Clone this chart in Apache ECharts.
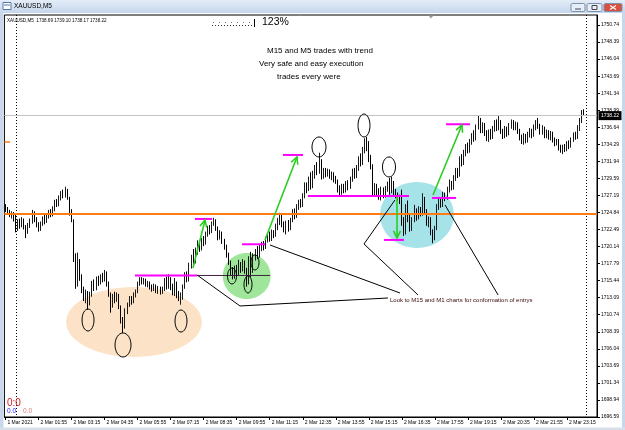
<!DOCTYPE html>
<html><head><meta charset="utf-8">
<script src="https://cdn.jsdelivr.net/npm/echarts@6/dist/echarts.min.js"></script>
<style>html,body{margin:0;padding:0;background:#fff;overflow:hidden}#c{width:625px;height:430px}</style>
</head><body><div id="c"></div>
<script>
(function () {
// ---------------- DATA ----------------
const priceTicks = ['1696.59','1698.94','1701.34','1703.69','1706.04','1708.39','1710.74','1713.09','1715.44','1717.79','1720.14','1722.49','1724.84','1727.19','1729.59','1731.94','1734.29','1736.64','1738.99','1741.34','1743.69','1746.04','1748.39','1750.74'];
const timeTicks = ['1 Mar 2021','2 Mar 01:55','2 Mar 03:15','2 Mar 04:35','2 Mar 05:55','2 Mar 07:15','2 Mar 08:35','2 Mar 09:55','2 Mar 11:15','2 Mar 12:35','2 Mar 13:55','2 Mar 15:15','2 Mar 16:35','2 Mar 17:55','2 Mar 19:15','2 Mar 20:35','2 Mar 21:55','2 Mar 23:15'];
const barsPerTick = 16;
const slotCount = 287;          // bar slots on the time axis (incl. right shift)
const daySeparators = [5, 281]; // first bar of 2 Mar, start of 3 Mar
// [open, close, low, high]
const ohlc = [
[1725.6,1725.3,1724.9,1726.0],[1725.3,1725.0,1724.7,1725.6],[1725.0,1724.4,1724.2,1725.2],[1724.4,1724.7,1724.0,1725.0],[1724.7,1723.9,1723.6,1724.9],
[1723.9,1722.6,1722.1,1724.5],[1722.6,1723.5,1722.3,1723.9],[1723.5,1723.0,1722.6,1724.0],[1723.0,1723.8,1722.8,1724.2],[1723.8,1722.8,1722.5,1724.0],
[1722.8,1722.1,1721.3,1723.1],[1722.1,1723.0,1721.9,1723.4],[1723.0,1723.6,1722.7,1724.0],[1723.6,1724.8,1723.3,1725.2],[1724.8,1723.9,1723.5,1725.0],
[1723.9,1723.2,1722.8,1724.2],[1723.2,1722.6,1722.2,1723.5],[1722.6,1723.3,1722.3,1723.6],[1723.3,1724.0,1723.0,1724.3],[1724.0,1723.6,1723.2,1724.6],
[1723.6,1724.3,1723.4,1724.7],[1724.3,1724.9,1724.0,1725.2],[1724.9,1724.5,1724.2,1725.3],[1724.5,1725.3,1724.3,1725.7],[1725.3,1726.2,1725.0,1726.6],
[1726.2,1725.9,1725.6,1726.7],[1725.9,1726.8,1725.7,1727.2],[1726.8,1727.5,1726.5,1727.8],[1727.5,1727.1,1726.8,1728.0],[1727.1,1727.9,1726.9,1728.4],
[1727.9,1726.9,1726.6,1728.1],[1726.9,1725.0,1724.4,1727.0],[1725.0,1723.7,1723.5,1725.3],[1723.7,1718.5,1718.0,1723.9],[1718.5,1714.8,1714.3,1719.2],
[1714.8,1717.8,1714.6,1719.3],[1717.8,1716.0,1715.4,1718.4],[1716.0,1714.2,1713.7,1716.3],[1714.2,1712.9,1712.6,1714.6],[1712.9,1713.8,1712.3,1714.2],
[1713.8,1712.3,1711.4,1714.0],[1712.3,1713.5,1712.0,1713.9],[1713.5,1715.0,1713.2,1715.4],[1715.0,1714.4,1714.0,1715.6],[1714.4,1715.6,1714.1,1716.0],
[1715.6,1715.1,1714.7,1716.1],[1715.1,1716.0,1714.9,1716.3],[1716.0,1715.6,1715.2,1716.5],[1715.6,1716.5,1715.3,1716.9],[1716.5,1715.0,1714.6,1716.7],
[1715.0,1713.6,1713.2,1715.3],[1713.6,1712.0,1711.0,1713.8],[1712.0,1713.2,1711.7,1713.6],[1713.2,1712.8,1712.3,1713.9],[1712.8,1713.4,1712.5,1713.8],
[1713.4,1711.8,1711.5,1713.6],[1711.8,1710.0,1709.5,1712.0],[1710.0,1709.0,1708.2,1710.4],[1709.0,1711.2,1708.8,1711.6],[1711.2,1712.0,1710.8,1712.4],
[1712.0,1712.9,1711.8,1713.3],[1712.9,1712.5,1712.1,1713.3],[1712.5,1713.4,1712.3,1713.8],[1713.4,1713.9,1713.1,1714.2],[1713.9,1715.0,1713.7,1715.3],
[1715.0,1715.6,1714.7,1715.9],[1715.6,1715.2,1714.9,1715.9],[1715.2,1715.5,1714.9,1715.8],[1715.5,1714.9,1714.6,1715.7],[1714.9,1715.1,1714.5,1715.4],
[1715.1,1714.6,1714.2,1715.3],[1714.6,1714.3,1713.9,1714.9],[1714.3,1714.7,1714.0,1715.0],[1714.7,1714.0,1713.7,1714.9],[1714.0,1714.4,1713.6,1714.7],
[1714.4,1713.9,1713.5,1714.6],[1713.9,1714.3,1713.6,1714.6],[1714.3,1715.3,1714.0,1715.8],[1715.3,1714.6,1714.2,1716.0],[1714.6,1715.6,1714.3,1716.3],
[1715.6,1714.7,1714.1,1715.9],[1714.7,1713.9,1713.4,1715.0],[1713.9,1715.1,1713.3,1715.8],[1715.1,1713.6,1713.0,1715.3],[1713.6,1713.0,1712.6,1714.0],
[1713.0,1713.4,1712.1,1713.8],[1713.4,1714.6,1712.8,1714.9],[1714.6,1716.2,1714.3,1716.6],[1716.2,1715.6,1715.2,1716.7],[1715.6,1717.5,1715.3,1717.9],
[1717.5,1718.6,1717.1,1719.0],[1718.6,1718.0,1717.4,1719.8],[1718.0,1719.5,1717.8,1720.0],[1719.5,1720.5,1719.0,1721.0],[1720.5,1719.8,1719.4,1720.9],
[1719.8,1721.0,1719.6,1721.3],[1721.0,1720.6,1720.2,1721.6],[1720.6,1721.9,1720.4,1722.2],[1721.9,1722.6,1721.5,1723.0],[1722.6,1722.2,1721.8,1723.1],
[1722.2,1723.2,1722.0,1723.6],[1723.2,1723.6,1723.0,1724.1],[1723.6,1722.6,1722.3,1723.9],[1722.6,1721.4,1721.0,1722.9],[1721.4,1722.0,1721.1,1722.4],
[1722.0,1720.9,1720.5,1722.2],[1720.9,1720.1,1719.7,1721.2],[1720.1,1719.0,1718.6,1720.4],[1719.0,1718.0,1717.6,1719.3],[1718.0,1716.6,1716.2,1718.2],
[1716.6,1716.0,1715.6,1717.3],[1716.0,1717.1,1715.7,1717.5],[1717.1,1716.4,1716.0,1717.6],[1716.4,1717.6,1716.2,1718.3],[1717.6,1716.9,1716.5,1718.0],
[1716.9,1717.9,1716.7,1718.4],[1717.9,1716.8,1716.4,1718.2],[1716.8,1715.5,1714.6,1717.2],[1715.5,1718.2,1714.9,1718.8],[1718.2,1716.8,1715.9,1719.4],
[1716.8,1718.6,1716.5,1719.2],[1718.6,1719.3,1718.2,1719.8],[1719.3,1718.8,1718.4,1720.2],[1718.8,1719.9,1718.6,1720.4],[1719.9,1720.4,1719.5,1720.8],
[1720.4,1720.0,1719.6,1720.9],[1720.0,1721.0,1719.8,1721.5],[1721.0,1721.6,1720.7,1722.0],[1721.6,1721.2,1720.8,1722.2],[1721.2,1722.1,1720.9,1722.5],
[1722.1,1721.7,1721.3,1722.4],[1721.7,1722.8,1721.5,1723.3],[1722.8,1723.5,1722.4,1724.1],[1723.5,1724.2,1723.1,1724.8],[1724.2,1723.2,1722.8,1724.5],
[1723.2,1722.5,1722.1,1723.6],[1722.5,1723.4,1721.8,1723.7],[1723.4,1722.7,1722.2,1723.8],[1722.7,1723.8,1722.4,1724.1],[1723.8,1725.0,1723.5,1725.3],
[1725.0,1724.4,1723.9,1725.4],[1724.4,1725.6,1724.1,1726.0],[1725.6,1726.2,1725.2,1726.6],[1726.2,1725.8,1725.5,1726.7],[1725.8,1727.1,1725.6,1727.5],
[1727.1,1728.6,1726.8,1729.0],[1728.6,1728.0,1727.5,1729.0],[1728.0,1729.3,1727.8,1729.8],[1729.3,1728.4,1728.0,1730.4],[1728.4,1729.8,1728.2,1730.6],
[1729.8,1730.9,1729.5,1731.4],[1730.9,1730.4,1730.0,1731.8],[1730.4,1731.9,1730.2,1733.1],[1731.9,1729.8,1729.4,1732.2],[1729.8,1730.6,1729.5,1731.0],
[1730.6,1730.1,1729.7,1731.0],[1730.1,1730.5,1729.8,1730.9],[1730.5,1729.8,1729.5,1730.8],[1729.8,1730.2,1729.3,1730.5],[1730.2,1729.5,1729.0,1730.4],
[1729.5,1729.1,1728.8,1729.9],[1729.1,1728.3,1727.6,1729.4],[1728.3,1727.6,1727.0,1728.6],[1727.6,1728.4,1727.3,1728.8],[1728.4,1727.9,1727.5,1728.8],
[1727.9,1728.8,1727.6,1729.2],[1728.8,1728.3,1727.9,1729.3],[1728.3,1729.4,1728.1,1729.8],[1729.4,1730.3,1729.1,1730.9],[1730.3,1729.9,1729.5,1731.0],
[1729.9,1730.9,1729.6,1731.4],[1730.9,1732.2,1730.6,1732.6],[1732.2,1731.6,1731.2,1733.0],[1731.6,1733.3,1731.4,1733.9],[1733.3,1734.6,1733.0,1735.1],
[1734.6,1733.8,1733.3,1735.3],[1733.8,1732.4,1731.8,1734.7],[1732.4,1731.2,1730.8,1732.8],[1731.2,1727.6,1727.2,1731.5],[1727.6,1728.4,1727.0,1728.9],
[1728.4,1727.5,1727.1,1728.8],[1727.5,1727.0,1726.6,1728.2],[1727.0,1727.9,1726.5,1728.4],[1727.9,1727.3,1726.8,1728.3],[1727.3,1728.0,1726.9,1728.5],
[1728.0,1728.6,1727.7,1729.1],[1728.6,1727.8,1727.3,1729.6],[1727.8,1728.9,1727.5,1729.8],[1728.9,1727.6,1727.2,1729.2],[1727.6,1727.2,1726.8,1728.1],
[1727.2,1726.9,1726.5,1727.6],[1726.9,1726.6,1726.0,1727.3],[1726.6,1723.5,1723.0,1728.0],[1723.5,1722.0,1721.6,1724.2],[1722.0,1725.2,1721.8,1726.0],
[1725.2,1724.0,1723.5,1726.5],[1724.0,1722.6,1722.2,1724.5],[1722.6,1723.8,1722.3,1724.2],[1723.8,1725.0,1723.5,1725.9],[1725.0,1724.2,1723.7,1725.4],
[1724.2,1725.2,1723.9,1725.7],[1725.2,1724.7,1724.3,1725.6],[1724.7,1726.6,1724.4,1727.5],[1726.6,1724.9,1724.5,1727.0],[1724.9,1723.4,1723.0,1725.3],
[1723.4,1723.9,1722.8,1724.3],[1723.9,1722.2,1721.7,1724.2],[1722.2,1721.3,1720.6,1722.5],[1721.3,1722.6,1721.0,1723.0],[1722.6,1725.6,1722.4,1726.0],
[1725.6,1726.4,1725.2,1726.9],[1726.4,1725.9,1725.5,1726.8],[1725.9,1727.2,1725.6,1727.7],[1727.2,1726.8,1726.4,1727.6],[1726.8,1727.9,1726.6,1728.4],
[1727.9,1728.8,1727.6,1729.4],[1728.8,1728.3,1727.9,1729.2],[1728.3,1729.6,1728.0,1730.0],[1729.6,1730.4,1729.2,1731.0],[1730.4,1730.0,1729.6,1731.0],
[1730.0,1732.3,1729.8,1732.6],[1732.3,1731.7,1731.2,1732.9],[1731.7,1733.0,1731.4,1733.5],[1733.0,1733.8,1732.6,1734.3],[1733.8,1733.4,1733.0,1734.5],
[1733.4,1734.6,1733.1,1735.0],[1734.6,1735.4,1734.2,1735.8],[1735.4,1735.0,1734.6,1736.2],[1735.0,1736.6,1734.8,1737.0],[1736.6,1737.6,1736.3,1738.3],
[1737.6,1736.2,1735.8,1737.9],[1736.2,1736.9,1735.8,1737.3],[1736.9,1735.8,1735.4,1737.2],[1735.8,1735.1,1734.7,1736.2],[1735.1,1735.9,1734.6,1736.3],
[1735.9,1735.3,1734.9,1736.4],[1735.3,1736.4,1735.0,1736.8],[1736.4,1737.2,1736.0,1737.6],[1737.2,1736.6,1736.1,1737.7],[1736.6,1737.4,1736.2,1738.2],
[1737.4,1736.1,1735.7,1737.6],[1736.1,1735.4,1735.0,1736.4],[1735.4,1736.3,1735.1,1736.8],[1736.3,1735.7,1735.3,1736.7],[1735.7,1736.8,1735.5,1737.2],
[1736.8,1737.3,1736.4,1737.7],[1737.3,1736.6,1736.2,1737.6],[1736.6,1737.0,1736.2,1737.4],[1737.0,1736.1,1735.7,1737.3],[1736.1,1735.2,1734.8,1736.4],
[1735.2,1734.7,1734.3,1735.6],[1734.7,1735.4,1734.2,1735.8],[1735.4,1734.8,1734.4,1735.7],[1734.8,1735.6,1734.5,1736.0],[1735.6,1736.1,1735.2,1736.5],
[1736.1,1735.5,1735.1,1736.4],[1735.5,1736.6,1735.3,1737.0],[1736.6,1737.3,1736.2,1737.6],[1737.3,1736.8,1736.4,1737.9],[1736.8,1736.0,1735.6,1737.1],
[1736.0,1736.5,1735.6,1736.9],[1736.5,1735.5,1735.1,1736.7],[1735.5,1736.0,1735.1,1736.3],[1736.0,1735.3,1734.9,1736.2],[1735.3,1735.8,1734.8,1736.1],
[1735.8,1734.9,1734.5,1736.0],[1734.9,1734.4,1734.0,1735.2],[1734.4,1734.8,1734.1,1735.0],[1734.8,1733.8,1733.4,1735.0],[1733.8,1733.4,1733.1,1734.2],
[1733.4,1733.9,1732.9,1734.2],[1733.9,1733.5,1733.2,1734.3],[1733.5,1734.4,1733.3,1734.7],[1734.4,1734.0,1733.6,1734.8],[1734.0,1734.9,1733.8,1735.2],
[1734.9,1735.6,1734.6,1735.9],[1735.6,1735.2,1734.9,1736.0],[1735.2,1736.5,1735.0,1736.9],[1736.5,1737.4,1736.1,1737.9],[1737.4,1738.69,1737.2,1739.0],
[1738.69,1738.22,1738.17,1739.10]
];
const orangeLevel = 1724.64;
const bidPrice = 1738.22;
const headerText = 'XAUUSD,M5  1738.69 1739.10 1738.17 1738.22';
// annotations in chart coordinates: [barIndex, price]
const fillEllipses = [[62.27,1709.72,32.9,4.84],[116.85,1716.07,11.6,3.18],[199.3,1724.50,17.9,4.56]];
const ringEllipses = [[40.0,1709.99,2.9,1.52],[56.94,1706.54,3.87,1.66],[85.03,1709.85,2.9,1.52],[109.73,1716.07,2.18,1.1],[117.48,1714.90,1.94,1.17],[120.87,1717.94,1.94,1.04],[151.86,1733.89,3.39,1.38],[173.66,1736.86,2.9,1.59],[185.76,1731.13,3.15,1.38]];
const magentaLevels = [[62.75,92.78,1716.14],[91.81,100.04,1723.95],[114.57,125.71,1720.45],[134.43,144.1,1732.79],[146.54,195.45,1727.12],[183.35,193.04,1721.05],[206.6,218.2,1726.85],[213.4,225.0,1737.03]];
const darkLevels = [[92.78,128.13,1716.14]];
const greenArrows = [[90.84,1717.18,96.66,1723.81],[125.71,1721.05,141.2,1732.51],[189.64,1726.98,189.64,1721.32],[207.08,1727.26,221.1,1736.93]];
const calloutLines = [
  [[92.78,1716.21],[113.6,1711.93],[185.28,1713.03]],
  [[128.13,1720.35],[191.09,1713.72]],
  [[188.67,1726.57],[173.66,1720.49],[199.8,1713.45]],
  [[212.9,1725.88],[238.6,1713.45]]
];
const calloutText = ['Look to M15 and M1 charts for conformation of entrys', 186.25, 1712.66];
const noteLines = ['M15 and M5 trades with trend','Very safe and easy execution','trades every were'];

// ---------------- CHART ----------------
const FONT = '"Liberation Sans", Arial, sans-serif';
const tickStep = (1750.74 - 1696.59) / 23;
const idxMax = 402 / 17.043;
const priceMin = 1696.59;
const priceMax = priceMin + idxMax * tickStep;
const cats = []; for (let i = 0; i < slotCount; i++) cats.push(String(i));
const isTick = (idx) => idx % barsPerTick === 0 && idx / barsPerTick < timeTicks.length;

const chart = echarts.init(document.getElementById('c'), null, {renderer: 'canvas'});
chart.setOption({
  animation: false,
  backgroundColor: '#ffffff',
  grid: {left: 4.4, right: 28, top: 15, bottom: 13, show: true, borderColor: '#000', borderWidth: 1,
         backgroundColor: 'transparent', containLabel: false, outerBoundsMode: 'none'},
  xAxis: {type: 'category', data: cats, boundaryGap: true,
    axisLine: {show: true, lineStyle: {color: '#000', width: 1}},
    axisTick: {show: true, alignWithLabel: true, interval: isTick, length: 3, lineStyle: {color: '#000'}},
    axisLabel: {show: true, interval: isTick, formatter: (v, i) => timeTicks[Math.round(i / barsPerTick)] || '',
      align: 'left', fontSize: 5, fontFamily: FONT, color: '#000', margin: 3, padding: [0, 0, 0, 2]},
    splitLine: {show: false}},
  yAxis: [
    {type: 'value', min: priceMin, max: priceMax, show: false, splitLine: {show: false}},
    {type: 'value', position: 'right', min: 0, max: idxMax, interval: 1,
      axisLine: {show: true, lineStyle: {color: '#000', width: 1}},
      axisTick: {show: true, length: 3, lineStyle: {color: '#000'}},
      axisLabel: {formatter: v => (Number.isInteger(v) && priceTicks[v]) ? priceTicks[v] : '',
        fontSize: 5, fontFamily: FONT, color: '#000', margin: 4, showMaxLabel: false},
      splitLine: {show: false}}
  ],
  series: [{
    type: 'candlestick', data: ohlc, xAxisIndex: 0, yAxisIndex: 0, barWidth: 1.3,
    itemStyle: {color: '#8c8c8c', color0: '#000000', borderColor: '#1a1a1a', borderColor0: '#000000', borderWidth: 1},
    markLine: {silent: true, symbol: ['none', 'none'], label: {show: false}, animation: false,
      data: [
        {yAxis: orangeLevel, lineStyle: {color: '#ff7a10', width: 2, type: 'solid'}},
        {yAxis: bidPrice, lineStyle: {color: '#c4c4c4', width: 1, type: 'solid'}}
      ]}
  }]
});

function px(i, p) {
  const i0 = Math.floor(i), f = i - i0;
  const a = chart.convertToPixel({seriesIndex: 0}, [i0, p]);
  const b = chart.convertToPixel({seriesIndex: 0}, [i0 + 1, p]);
  return [a[0] + (b[0] - a[0]) * f, a[1]];
}

const g = [];
// window chrome
g.push({type: 'rect', z: 50, silent: true, shape: {x: 0, y: 0, width: 625, height: 13},
  style: {fill: {type: 'linear', x: 0, y: 0, x2: 0, y2: 1, colorStops: [{offset: 0, color: '#e4edf8'}, {offset: 1, color: '#c5d6ec'}]}}});
g.push({type: 'rect', z: 50, silent: true, shape: {x: 0, y: 13, width: 3.5, height: 417}, style: {fill: '#c8d8ec'}});
g.push({type: 'rect', z: 50, silent: true, shape: {x: 622, y: 13, width: 3, height: 417}, style: {fill: '#c8d8ec'}});
g.push({type: 'rect', z: 50, silent: true, shape: {x: 0, y: 427.5, width: 625, height: 3}, style: {fill: '#d6dfea'}});
g.push({type: 'rect', z: 51, silent: true, shape: {x: 3, y: 2.5, width: 8, height: 7}, style: {fill: '#ffffff', stroke: '#5577aa', lineWidth: 1}});
g.push({type: 'line', z: 52, silent: true, shape: {x1: 4, y1: 5, x2: 10, y2: 5}, style: {stroke: '#5577aa', lineWidth: 1}});
g.push({type: 'text', z: 52, silent: true, style: {text: 'XAUUSD,M5', x: 14, y: 6.5, font: '6.5px ' + FONT, fill: '#000', textAlign: 'left', textVerticalAlign: 'middle'}});
[[571, 14, '#e8eef6'], [587, 15, '#e8eef6'], [604, 18, '#d9503f']].forEach(b => {
  g.push({type: 'rect', z: 52, silent: true, shape: {x: b[0], y: 3.5, width: b[1], height: 8, r: 1.5}, style: {fill: b[2], stroke: '#7b90ad', lineWidth: 1}});
});
g.push({type: 'line', z: 53, silent: true, shape: {x1: 575, y1: 9, x2: 581, y2: 9}, style: {stroke: '#445', lineWidth: 1}});
g.push({type: 'rect', z: 53, silent: true, shape: {x: 592, y: 5.5, width: 5, height: 4}, style: {fill: 'none', stroke: '#445', lineWidth: 1}});
g.push({type: 'line', z: 53, silent: true, shape: {x1: 610, y1: 5.5, x2: 616, y2: 9.5}, style: {stroke: '#fff', lineWidth: 1.2}});
g.push({type: 'line', z: 53, silent: true, shape: {x1: 616, y1: 5.5, x2: 610, y2: 9.5}, style: {stroke: '#fff', lineWidth: 1.2}});

// background fills
const fillColors = ['#fce3c8', '#9fe69b', '#a6e3e9'];
fillEllipses.forEach((e, k) => {
  const c = px(e[0], e[1]), r = px(e[0] + e[2], e[1] + e[3]);
  g.push({type: 'ellipse', z: 0, silent: true, shape: {cx: c[0], cy: c[1], rx: r[0] - c[0], ry: c[1] - r[1]}, style: {fill: fillColors[k]}});
});

// day separators
const topY = px(0, priceMax)[1], botY = px(0, priceMin)[1];
daySeparators.forEach(d => {
  const x = Math.round(px(d, priceMin)[0]) + 0.5;
  g.push({type: 'line', z: 1, silent: true, shape: {x1: x, y1: topY, x2: x, y2: botY}, style: {stroke: '#000', lineWidth: 1, lineDash: [1, 2]}});
});

// level lines
magentaLevels.forEach(m => {
  const a = px(m[0], m[2]), b = px(m[1], m[2]);
  g.push({type: 'line', z: 20, silent: true, shape: {x1: a[0], y1: a[1], x2: b[0], y2: b[1]}, style: {stroke: '#ff00ff', lineWidth: 2}});
});
darkLevels.forEach(m => {
  const a = px(m[0], m[2]), b = px(m[1], m[2]);
  g.push({type: 'line', z: 20, silent: true, shape: {x1: a[0], y1: a[1], x2: b[0], y2: b[1]}, style: {stroke: '#402040', lineWidth: 1}});
});
// green arrows
greenArrows.forEach(a => {
  const s = px(a[0], a[1]), t = px(a[2], a[3]);
  const dx = t[0] - s[0], dy = t[1] - s[1], L = Math.hypot(dx, dy), ux = dx / L, uy = dy / L;
  const h = 7, w = 3.5;
  g.push({type: 'line', z: 21, silent: true, shape: {x1: s[0], y1: s[1], x2: t[0], y2: t[1]}, style: {stroke: '#2ccc22', lineWidth: 1.6}});
  g.push({type: 'polyline', z: 21, silent: true, shape: {points: [[t[0] - ux * h - uy * w, t[1] - uy * h + ux * w], t, [t[0] - ux * h + uy * w, t[1] - uy * h - ux * w]]}, style: {stroke: '#2ccc22', lineWidth: 1.6, fill: 'none'}});
});
// rings
ringEllipses.forEach(e => {
  const c = px(e[0], e[1]), r = px(e[0] + e[2], e[1] + e[3]);
  g.push({type: 'ellipse', z: 22, silent: true, shape: {cx: c[0], cy: c[1], rx: r[0] - c[0], ry: c[1] - r[1]}, style: {fill: 'none', stroke: '#000', lineWidth: 1}});
});
// callout lines
calloutLines.forEach(l => {
  g.push({type: 'polyline', z: 22, silent: true, shape: {points: l.map(q => px(q[0], q[1]))}, style: {stroke: '#000', lineWidth: 1, fill: 'none'}});
});
const ct = px(calloutText[1], calloutText[2]);
g.push({type: 'text', z: 23, silent: true, style: {text: calloutText[0], x: ct[0], y: ct[1], font: '6px ' + FONT, fill: '#3a0c0c', textAlign: 'left', textVerticalAlign: 'middle'}});

// notes
[[267, 51], [259, 64], [277, 77]].forEach((p, k) => {
  g.push({type: 'text', z: 23, silent: true, style: {text: noteLines[k], x: p[0], y: p[1], font: '8px ' + FONT, fill: '#000', textAlign: 'left', textVerticalAlign: 'middle'}});
});
// header
g.push({type: 'text', z: 23, silent: true, style: {text: headerText, x: 7, y: 21, font: '4.6px ' + FONT, fill: '#000', textAlign: 'left', textVerticalAlign: 'middle'}});
// zoom indicator
g.push({type: 'line', z: 23, silent: true, shape: {x1: 212, y1: 25.5, x2: 252, y2: 25.5}, style: {stroke: '#333', lineWidth: 1, lineDash: [1, 2]}});
g.push({type: 'line', z: 23, silent: true, shape: {x1: 213, y1: 22.5, x2: 252, y2: 22.5}, style: {stroke: '#777', lineWidth: 1, lineDash: [1, 5]}});
g.push({type: 'line', z: 23, silent: true, shape: {x1: 254.5, y1: 19, x2: 254.5, y2: 27}, style: {stroke: '#000', lineWidth: 1}});
g.push({type: 'text', z: 23, silent: true, style: {text: '123%', x: 262, y: 22.5, font: '10.5px ' + FONT, fill: '#000', textAlign: 'left', textVerticalAlign: 'middle'}});
// chart shift marker
g.push({type: 'polygon', z: 23, silent: true, shape: {points: [[428.5, 15.5], [433.5, 15.5], [431, 18.5]]}, style: {fill: '#9a9a9a'}});
// orange stub at left
g.push({type: 'line', z: 23, silent: true, shape: {x1: 4.5, y1: 142, x2: 10, y2: 142}, style: {stroke: '#ff7a10', lineWidth: 1.5}});
// bid price box
const by = px(0, bidPrice)[1];
g.push({type: 'rect', z: 60, silent: true, shape: {x: 598.5, y: by - 4.5, width: 23, height: 9}, style: {fill: '#000'}});
g.push({type: 'text', z: 61, silent: true, style: {text: bidPrice.toFixed(2), x: 610, y: by, font: '5px ' + FONT, fill: '#fff', textAlign: 'center', textVerticalAlign: 'middle'}});
// trade result counters
g.push({type: 'text', z: 23, silent: true, style: {text: '0:0', x: 7, y: 403, font: '10px ' + FONT, fill: '#d01c1c', textAlign: 'left', textVerticalAlign: 'middle'}});
g.push({type: 'text', z: 23, silent: true, style: {text: '0.0', x: 7, y: 411.5, font: '6.5px ' + FONT, fill: '#2222ff', textAlign: 'left', textVerticalAlign: 'middle'}});
g.push({type: 'text', z: 23, silent: true, style: {text: '0.0', x: 23, y: 411.5, font: '6.5px ' + FONT, fill: '#e07a7a', textAlign: 'left', textVerticalAlign: 'middle'}});

chart.setOption({graphic: g});
})();
</script></body></html>
